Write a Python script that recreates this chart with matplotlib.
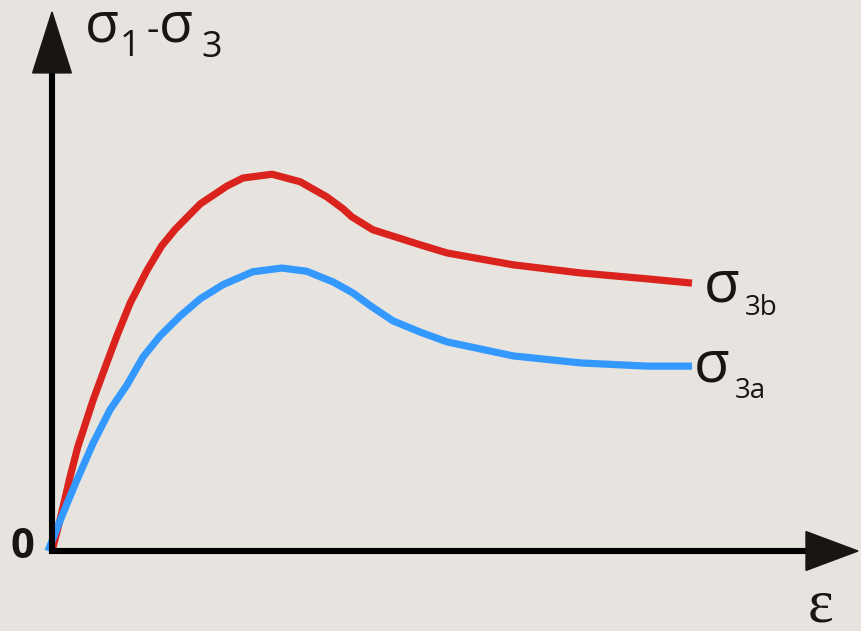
"""
σ1-σ3 vs ε curves for two confining pressures
"""

import matplotlib
matplotlib.use('Agg')
import matplotlib.pyplot as plt
from matplotlib.patches import Polygon

W, H = 861, 631

# strain (arbitrary units) and deviator stress (arbitrary units)
eps_b = [0.0, 0.10, 0.22, 0.32, 0.51, 0.66, 0.81, 0.97, 1.18, 1.36, 1.53, 1.84,
         2.17, 2.37, 2.73, 3.08, 3.41, 3.61, 3.72, 3.98, 4.57, 4.90, 5.72, 6.55,
         7.38, 7.94]
dev_b = [0.0, 0.58, 1.35, 1.93, 2.80, 3.41, 4.01, 4.60, 5.21, 5.66, 5.97, 6.44,
         6.77, 6.92, 6.99, 6.85, 6.57, 6.35, 6.20, 5.96, 5.68, 5.53, 5.31, 5.16,
         5.05, 4.97]

eps_a = [-0.05, 0.14, 0.31, 0.51, 0.72, 0.93, 1.13, 1.34, 1.59, 1.84, 2.12, 2.49,
         2.85, 3.16, 3.49, 3.73, 3.95, 4.23, 4.57, 4.90, 5.72, 6.55, 7.38, 7.94]
dev_a = [0.0, 0.71, 1.32, 2.00, 2.62, 3.08, 3.60, 3.99, 4.36, 4.68, 4.94, 5.18,
         5.25, 5.19, 4.99, 4.79, 4.55, 4.27, 4.06, 3.88, 3.62, 3.49, 3.43, 3.43]

RED = '#d9231c'
BLUE = '#3399ff'
BG = '#e7e4df'


def px(x, y):
    # pixel -> figure fraction
    return x / W, 1 - y / H


fig = plt.figure(figsize=(W / 100, H / 100), dpi=100)
fig.patch.set_facecolor(BG)

# axes: origin at (52, 551), arrow tips at x=858 / y=12
ax = fig.add_axes([52 / W, (H - 551) / H, 806 / W, 539 / H])
ax.set_xlim(0, 10)
ax.set_ylim(0, 10)
ax.axis('off')

for e, d, c in [(eps_b, dev_b, RED), (eps_a, dev_a, BLUE)]:
    ax.plot(e, d, color=c, lw=5.2, solid_capstyle='butt', solid_joinstyle='round',
            clip_on=False, zorder=2)

# axis lines + arrow heads
ax.plot([0, 0, 9.45], [8.95, 0, 0], color='black', lw=4.4,
        solid_joinstyle='miter', clip_on=False, zorder=3)
ax.add_patch(Polygon([(0, 10), (-0.24, 8.87), (0.24, 8.87)], closed=True,
                     color='#1a1413', clip_on=False, zorder=4))
ax.add_patch(Polygon([(10, 0), (9.355, 0.36), (9.355, -0.36)], closed=True,
                     color='#1a1413', clip_on=False, zorder=4))

txt = '#1a1413'
sans = ['Open Sans', 'DejaVu Sans']

# y label  σ1-σ3
fig.text(*px(85, 41), 'σ', fontsize=40, family=sans, color=txt, va='baseline')
fig.text(*px(120, 56), '1', fontsize=26, family=sans, color=txt, va='baseline')
fig.text(*px(146, 41), '-', fontsize=28, family=sans, color=txt, va='baseline')
fig.text(*px(159, 41), 'σ', fontsize=40, family=sans, color=txt, va='baseline')
fig.text(*px(201, 57), '3', fontsize=26, family=sans, color=txt, va='baseline')

# curve labels
fig.text(*px(704, 302), 'σ', fontsize=42, family=sans, color=txt, va='baseline')
fig.text(*px(745, 315), '3b', fontsize=20, family=sans, color=txt, va='baseline')
fig.text(*px(694, 382), 'σ', fontsize=42, family=sans, color=txt, va='baseline')
fig.text(*px(735, 398), '3a', fontsize=20, family=sans, color=txt, va='baseline')

# origin and x label
fig.text(*px(10, 558), '0', fontsize=30, family=sans, weight='bold', color=txt,
         va='baseline')
fig.text(*px(808, 622), 'ε', fontsize=44, family=['Liberation Serif', 'DejaVu Serif'],
         color=txt, va='baseline')

fig.savefig('out.png', dpi=100, facecolor=BG)
plt.close(fig)
